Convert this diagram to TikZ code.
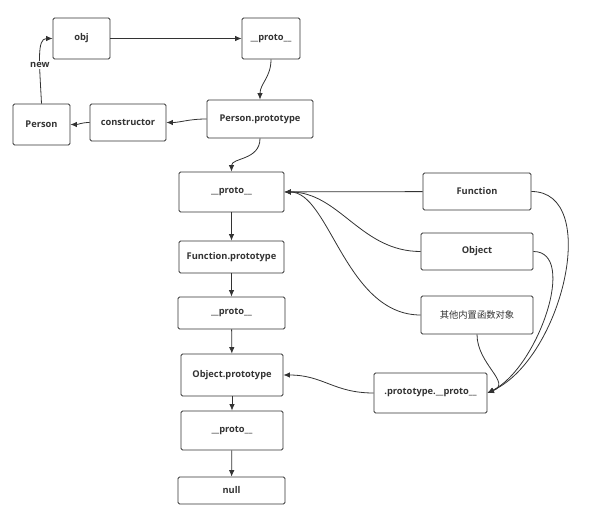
\documentclass[tikz,border=0pt]{standalone}
\usepackage{fontspec}
\setmainfont{Open Sans}
\newfontfamily\cjk{Noto Sans CJK SC}
\usetikzlibrary{arrows.meta}

\definecolor{linegray}{HTML}{333333}

\tikzset{
  box/.style={draw=linegray, rounded corners=1.5pt, line width=0.8pt,
    inner sep=0pt, text=linegray, font=\fontsize{9.3}{11}\selectfont\bfseries},
  link/.style={draw=linegray, line width=0.8pt, -{Latex[length=6.5pt,width=5.5pt]}}
}

\begin{document}
\begin{tikzpicture}[x=1pt,y=-1pt]
  \useasboundingbox (0,0) rectangle (591,514);

  % person chain
  \node[box, minimum width=57pt, minimum height=41pt] (obj)    at (81.5,38.5) {obj};
  \node[box, minimum width=58pt, minimum height=41pt] (protoA) at (271,38.5)  {\_\_proto\_\_};
  \node[box, minimum width=57pt, minimum height=41pt] (person) at (41.5,124.5) {Person};
  \node[box, minimum width=76pt, minimum height=37pt] (ctor)   at (128,122.5)  {constructor};
  \node[box, minimum width=106pt, minimum height=38pt] (personproto) at (260,119) {Person.prototype};

  % left column
  \node[box, minimum width=105pt, minimum height=40pt] (protoB)    at (231.5,192) {\_\_proto\_\_};
  \node[box, minimum width=105pt, minimum height=32pt] (funcproto) at (231.5,257) {Function.prototype};
  \node[box, minimum width=107pt, minimum height=32pt] (protoC)    at (231.5,313) {\_\_proto\_\_};
  \node[box, minimum width=102pt, minimum height=42pt] (objproto)  at (232,375)   {Object.prototype};
  \node[box, minimum width=102pt, minimum height=39pt] (protoD)    at (232,430.5) {\_\_proto\_\_};
  \node[box, minimum width=107pt, minimum height=27pt] (nullbox)   at (231.5,490.5) {null};

  % right column
  \node[box, minimum width=108pt, minimum height=37pt] (function) at (477,191.5) {Function};
  \node[box, minimum width=112pt, minimum height=37pt] (object)   at (477,251.5) {Object};
  \node[box, minimum width=112pt, minimum height=38pt, font=\fontsize{9.3}{11}\cjk] (builtin) at (477,315) {其他内置函数对象};
  \node[box, minimum width=113pt, minimum height=40pt] (protoproto) at (430.5,393) {.prototype.\_\_proto\_\_};

  \draw[link] (person.north) .. controls +(-2,-40) and +(-16,0) .. node[pos=.38, fill=white, inner sep=1pt, text=linegray, font=\fontsize{9.3}{11}\selectfont\bfseries] {new} (obj.west);
  \draw[link] (obj) -- (protoA);
  \draw[link] (protoA.south) .. controls +(0,18) and +(0,-16) .. (personproto.north);
  \draw[link] (personproto.west) .. controls +(-18,0) and +(14,0) .. (ctor.east);
  \draw[link] (ctor.west) .. controls +(-8,0) and +(8,0) .. (person.east);
  \draw[link] (personproto.south) .. controls +(0,22) and +(0,-14) .. (protoB.north);

  \foreach \a/\b in {protoB/funcproto, funcproto/protoC, protoC/objproto, objproto/protoD, protoD/nullbox}
    \draw[link] (\a) -- (\b);

  \draw[link] (function) -- (protoB);
  \draw[link] (object.west) .. controls +(-60,0) and +(55,0) .. (protoB.east);
  \draw[link] (builtin.west) .. controls +(-75,0) and +(45,0) .. (protoB.east);

  \draw[link] (function.east) .. controls +(70,0) and +(75,-35) .. (protoproto.east);
  \draw[link] (object.east) .. controls +(45,0) and +(50,-25) .. (protoproto.east);
  \draw[link] (builtin.south) .. controls +(0,30) and +(25,-10) .. (protoproto.east);

  \draw[link] (protoproto.west) .. controls +(-40,0) and +(40,0) .. (objproto.east);
\end{tikzpicture}
\end{document}
